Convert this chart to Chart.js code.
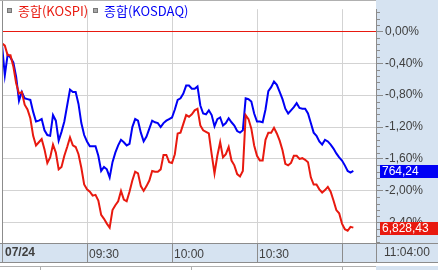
<!DOCTYPE html>
<html><head><meta charset="utf-8">
<script src="https://cdn.jsdelivr.net/npm/chart.js@4/dist/chart.umd.min.js"></script>
<style>html,body{margin:0;padding:0;background:#fff;}canvas{display:block;}</style>
</head><body>
<canvas id="c" width="438" height="270"></canvas>
<script>
// ---- data ----
const seriesNames = ['종합(KOSPI)', '종합(KOSDAQ)'];
const lastPrices = ['6,828,43', '764,24'];
const dateLabel = '07/24';
const endTimeLabel = '11:04:00';
const sessionStartMinute = 9 * 60; // 09:00
const xTickMinutes = [30, 60, 90, 120];
const xTickLabels = ['09:30', '10:00', '10:30', ''];
const yTickValues = [0, -0.4, -0.8, -1.2, -1.6, -2.0, -2.4];

// % change, one value per minute from 09:00 to 11:04
const kospi = [
 -0.15,-0.18,-0.30,-0.30,-0.44,-0.65,-0.78,-0.76,-0.92,-0.98,
 -1.09,-1.31,-1.43,-1.39,-1.35,-1.48,-1.65,-1.58,-1.42,-1.52,
 -1.73,-1.70,-1.56,-1.45,-1.33,-1.43,-1.45,-1.54,-1.71,-1.92,
 -1.98,-2.01,-2.06,-2.05,-2.12,-2.30,-2.35,-2.41,-2.46,-2.24,
 -2.18,-2.13,-2.00,-2.11,-2.13,-2.01,-1.87,-1.76,-1.78,-1.94,
 -2.00,-1.94,-1.87,-1.75,-1.76,-1.76,-1.73,-1.55,-1.55,-1.64,
 -1.65,-1.54,-1.28,-1.27,-1.16,-1.05,-1.07,-1.04,-0.99,-0.97,
 -1.18,-1.24,-1.26,-1.28,-1.54,-1.78,-1.56,-1.39,-1.58,-1.54,
 -1.45,-1.62,-1.68,-1.79,-1.82,-1.75,-1.05,-1.10,-1.22,-1.43,
 -1.56,-1.62,-1.62,-1.36,-1.27,-1.27,-1.21,-1.28,-1.37,-1.49,
 -1.66,-1.68,-1.65,-1.56,-1.56,-1.60,-1.59,-1.61,-1.64,-1.83,
 -1.92,-1.92,-1.98,-2.02,-1.99,-1.95,-2.01,-2.12,-2.24,-2.28,
 -2.41,-2.48,-2.50,-2.45,-2.46
];
const kosdaq = [
 -0.17,-0.55,-0.29,-0.33,-0.39,-0.57,-0.87,-0.76,-0.84,-0.85,
 -0.86,-1.01,-1.13,-1.12,-1.10,-1.24,-1.30,-1.31,-1.05,-1.12,
 -1.37,-1.26,-1.13,-0.93,-0.73,-0.76,-0.76,-0.91,-1.15,-1.30,
 -1.38,-1.44,-1.44,-1.44,-1.56,-1.75,-1.70,-1.73,-1.83,-1.64,
 -1.52,-1.43,-1.36,-1.39,-1.43,-1.41,-1.20,-1.10,-1.12,-1.27,
 -1.38,-1.32,-1.22,-1.12,-1.14,-1.15,-1.20,-1.15,-1.12,-1.10,
 -1.08,-0.98,-0.86,-0.84,-0.78,-0.68,-0.68,-0.72,-0.72,-0.69,
 -0.93,-1.03,-1.04,-0.99,-1.05,-1.19,-1.10,-1.08,-1.18,-1.15,
 -1.09,-1.14,-1.18,-1.25,-1.27,-1.24,-0.84,-0.85,-0.88,-1.03,
 -1.13,-1.13,-1.14,-0.98,-0.75,-0.70,-0.63,-0.67,-0.76,-0.85,
 -0.97,-1.03,-0.99,-0.95,-0.90,-0.96,-0.97,-0.97,-1.03,-1.15,
 -1.27,-1.31,-1.38,-1.42,-1.36,-1.38,-1.42,-1.47,-1.53,-1.58,
 -1.62,-1.68,-1.75,-1.77,-1.75
];
// minute labels 09:00 ... 11:04
const times = kospi.map((_, i) => {
  const t = sessionStartMinute + i;
  return String(Math.floor(t / 60)).padStart(2, '0') + ':' + String(t % 60).padStart(2, '0');
});

// ---- style ----
const RED = '#e8190f';
const BLUE = '#0000f5';
const PANEL = '#d6e3f1';
const GRID = '#d3d3d3';
const AXIS = '#8c8c8c';
const TEXT = '#404040';
const NARROW = "'Liberation Sans Narrow', 'Liberation Sans', Arial, sans-serif";
const CJK = "'Noto Sans CJK KR', 'Noto Sans', sans-serif";
const colors = [RED, BLUE];

function minuteOf(t) { const [h, m] = t.split(':').map(Number); return h * 60 + m - sessionStartMinute; }
function fmtPct(v) { return (Math.abs(v) < 1e-9 ? 0 : v).toFixed(2).replace('.', ',') + '%'; }

const decor = {
  id: 'decor',
  beforeDraw(chart) {
    const { ctx, chartArea: a, width, height } = chart;
    ctx.save();
    ctx.fillStyle = PANEL;
    ctx.fillRect(a.right, 0, width - a.right, a.bottom);
    ctx.fillRect(0, a.bottom + 1, width, 18);
    ctx.fillStyle = '#fff';
    ctx.fillRect(0, a.bottom + 19, width, height - a.bottom - 19);
    ctx.fillStyle = PANEL;
    ctx.fillRect(a.right, a.bottom + 23, width - a.right, height);
    ctx.restore();
  },
  afterDraw(chart) {
    const { ctx, chartArea: a, width } = chart;
    const xs = chart.scales.x, ys = chart.scales.y;
    ctx.save();
    // borders
    ctx.strokeStyle = AXIS; ctx.lineWidth = 1;
    ctx.beginPath();
    ctx.moveTo(a.left + 0.5, 0); ctx.lineTo(a.left + 0.5, a.bottom + 19);
    ctx.moveTo(0, a.bottom + 0.5); ctx.lineTo(width, a.bottom + 0.5);
    ctx.moveTo(0, a.bottom + 19.5); ctx.lineTo(width, a.bottom + 19.5);
    ctx.moveTo(a.right + 0.5, a.bottom); ctx.lineTo(a.right + 0.5, a.bottom + 19);
    ctx.stroke();
    ctx.strokeStyle = '#b0b0b0';
    ctx.beginPath();
    ctx.moveTo(0, 0.5); ctx.lineTo(a.right, 0.5);
    ctx.moveTo(0, a.bottom + 23.5); ctx.lineTo(a.right, a.bottom + 23.5);
    [40, 191, 342].forEach(x => { ctx.moveTo(x + 0.5, a.bottom + 23); ctx.lineTo(x + 0.5, chart.height); });
    ctx.stroke();
    // separators in time strip
    ctx.strokeStyle = AXIS;
    ctx.beginPath();
    xTickMinutes.forEach(m => { const x = Math.round(xs.getPixelForValue(m)) + 0.5; ctx.moveTo(x, a.bottom); ctx.lineTo(x, a.bottom + 19); });
    ctx.stroke();
    // minor ticks on value axis
    ctx.beginPath();
    for (let k = 4; k > -40; k--) {
      const v = k * 0.08;
      if (v > ys.max || v < ys.min) continue;
      if (Math.abs(k % 5) === 0) continue;
      const y = Math.round(ys.getPixelForValue(v)) + 0.5;
      ctx.moveTo(a.right, y); ctx.lineTo(a.right + 4, y);
    }
    ctx.stroke();
    // date & end time
    ctx.fillStyle = TEXT; ctx.textBaseline = 'middle'; ctx.textAlign = 'left';
    ctx.font = "bold 12px " + NARROW;
    ctx.fillText(dateLabel, a.left + 3, a.bottom + 10);
    ctx.font = "12px " + NARROW;
    ctx.fillText(endTimeLabel, a.right + 8, a.bottom + 10);
    // legend
    ctx.font = "13px " + CJK;
    let lx = a.left + 5;
    chart.data.datasets.forEach((ds, i) => {
      ctx.fillStyle = '#a8a8a8'; ctx.fillRect(lx, 8, 5, 5);
      ctx.strokeStyle = '#777'; ctx.strokeRect(lx + 0.5, 8.5, 4, 4);
      ctx.fillStyle = colors[i]; ctx.textBaseline = 'middle';
      ctx.fillText(ds.label, lx + 11, 11);
      lx = Math.round(xs.getPixelForValue(xTickMinutes[i])) + 6;
    });
    // last value boxes
    ctx.font = "12px " + NARROW; ctx.textBaseline = 'middle';
    chart.data.datasets.forEach((ds, i) => {
      const last = ds.data[ds.data.length - 1];
      const y = Math.round(ys.getPixelForValue(last.y));
      ctx.fillStyle = colors[i];
      ctx.fillRect(a.right + 4, y - 6, width - a.right - 4, 13);
      ctx.fillStyle = '#fff';
      ctx.fillText(lastPrices[i], a.right + 6, y + 1);
    });
    ctx.restore();
  }
};

new Chart(document.getElementById('c'), {
  type: 'line',
  data: {
    datasets: [kospi, kosdaq].map((arr, i) => ({
      label: seriesNames[i],
      data: arr.map((v, j) => ({ x: minuteOf(times[j]), y: v })),
      borderColor: colors[i],
      borderWidth: 2,
      pointRadius: 0,
      tension: 0,
      fill: false
    }))
  },
  options: {
    responsive: false,
    animation: false,
    devicePixelRatio: 1,
    layout: { padding: { left: 2, right: 0, top: 0, bottom: 0 } },
    plugins: { legend: { display: false }, tooltip: { enabled: false } },
    scales: {
      x: {
        type: 'linear', min: 0, max: 132,
        afterBuildTicks: s => { s.ticks = xTickMinutes.map(v => ({ value: v })); },
        afterFit: s => { s.height = 27; },
        grid: { color: GRID, drawTicks: false },
        border: { display: false },
        ticks: {
          autoSkip: false, maxRotation: 0, align: 'start', padding: 4, labelOffset: 2,
          color: TEXT, font: { family: NARROW, size: 12 },
          callback: (v, i) => xTickLabels[i]
        }
      },
      y: {
        position: 'right', min: -2.653, max: 0.277,
        afterBuildTicks: s => { s.ticks = yTickValues.map(v => ({ value: v })); },
        afterFit: s => { s.width = 62; },
        grid: {
          color: c => (c.tick && c.tick.value === 0 ? RED : GRID),
          tickLength: 7, tickColor: AXIS
        },
        border: { display: true, color: AXIS },
        ticks: {
          padding: 2, color: TEXT, font: { family: NARROW, size: 12 },
          callback: v => fmtPct(v)
        }
      }
    }
  },
  plugins: [decor]
});
</script>
</body></html>
